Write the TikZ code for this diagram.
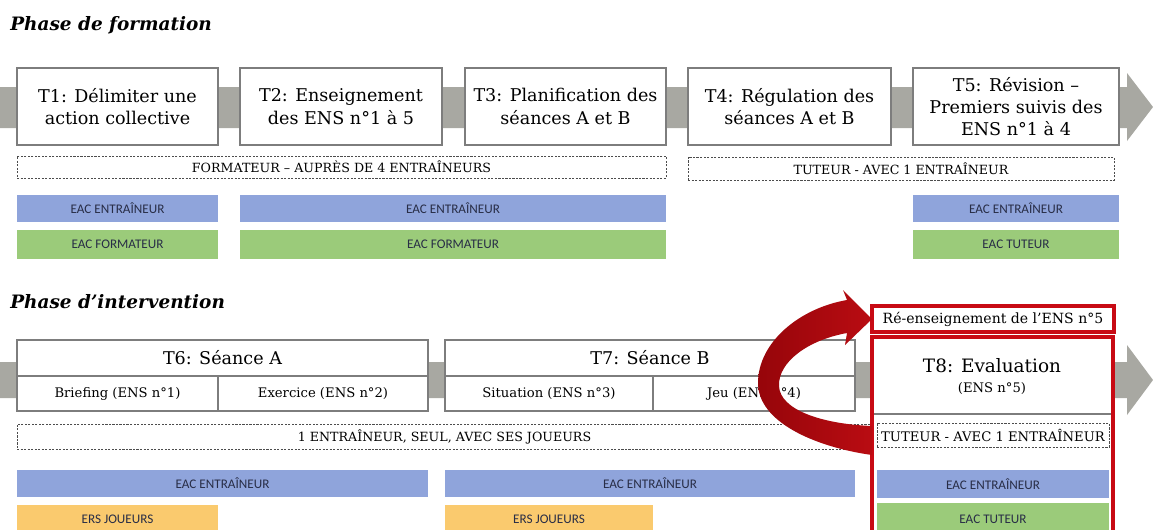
\documentclass[tikz,border=0pt]{standalone}
\usepackage{fontspec}
\setmainfont{DejaVu Serif}
\newfontfamily\calfont{Carlito}
\definecolor{bblue}{RGB}{143,164,219}
\definecolor{bgreen}{RGB}{155,203,122}
\definecolor{borange}{RGB}{250,202,110}
\definecolor{bred}{RGB}{200,10,20}
\definecolor{swred}{RGB}{185,12,18}
\definecolor{swdark}{RGB}{150,5,10}
\definecolor{bargray}{RGB}{168,168,162}
\definecolor{boxline}{RGB}{125,125,125}
\definecolor{eactext}{RGB}{40,45,70}
\newcommand\pbox[6]{\node[#1, minimum width={(#4-#2)*0.02cm}, minimum height={(#5-#3)*0.02cm}] (#6) at ({(#2+#4)/2},{(#3+#5)/2})}
\tikzset{
 tbox/.style={draw=boxline, line width=0.6pt, fill=white, inner sep=0pt, outer sep=0pt, align=center, font=\fontsize{10}{12.7}\selectfont},
 cell/.style={draw=boxline, line width=0.6pt, fill=white, inner sep=0pt, outer sep=0pt, font=\fontsize{7.5}{9}\selectfont},
 ttl/.style={draw=boxline, line width=0.6pt, fill=white, inner sep=0pt, outer sep=0pt, font=\fontsize{10}{12}\selectfont},
 dbox/.style={draw=black!70, line width=0.5pt, dash pattern=on 1.2pt off 0.8pt, fill=white, inner sep=0pt, outer sep=0pt, font=\fontsize{7.2}{8}\selectfont},
 eac/.style={fill=#1, inner sep=0pt, outer sep=0pt, text=eactext, font=\calfont\fontsize{7.5}{9}\selectfont},
 redbox/.style={draw=bred, line width=2.4pt, fill=white, inner sep=0pt, outer sep=0pt, font=\fontsize{8}{9}\selectfont},
 heading/.style={anchor=west, inner sep=0pt, font=\bfseries\itshape\fontsize{10.5}{12}\selectfont},
 plain/.style={inner sep=0pt},
 bar/.style={fill=bargray},
 swoosh/.style={left color=swdark, right color=swred}
}
\begin{document}
\begin{tikzpicture}[x=0.02cm,y=-0.02cm]
\useasboundingbox (0,0) rectangle (1153,529);
\clip (0,0) rectangle (1153,529);
\fill[white] (0,0) rectangle (1153,529);
% ---------- Phase de formation
\node[heading] (h1) at (10,25) {Phase de formation};
\fill[bar] (0,87) -- (1127,87) -- (1127,73) -- (1153,107) -- (1127,141) -- (1127,128) -- (0,128) -- cycle;
\pbox{tbox}{17}{68}{218}{145}{t1} {T1: Délimiter une\\action collective};
\pbox{tbox}{240}{68}{442}{145}{t2} {T2: Enseignement\\des ENS n°1 à 5};
\pbox{tbox}{465}{68}{666}{145}{t3} {T3: Planification des\\séances A et B};
\pbox{tbox}{688}{68}{891}{145}{t4} {T4: Régulation des\\séances A et B};
\pbox{tbox}{913}{68}{1119}{145}{t5} {T5: Révision –\\Premiers suivis des\\ENS n°1 à 4};
\pbox{dbox}{17}{156}{666}{178}{d1} {FORMATEUR – AUPRÈS DE 4 ENTRAÎNEURS};
\pbox{dbox}{688}{157}{1114}{180}{d2} {TUTEUR - AVEC 1 ENTRAÎNEUR};
\pbox{eac=bblue}{17}{195}{218}{222}{e1} {EAC ENTRAÎNEUR};
\pbox{eac=bblue}{240}{195}{666}{222}{e2} {EAC ENTRAÎNEUR};
\pbox{eac=bblue}{913}{195}{1119}{222}{e3} {EAC ENTRAÎNEUR};
\pbox{eac=bgreen}{17}{230}{218}{259}{f1} {EAC FORMATEUR};
\pbox{eac=bgreen}{240}{230}{666}{259}{f2} {EAC FORMATEUR};
\pbox{eac=bgreen}{913}{230}{1119}{259}{f3} {EAC TUTEUR};
% ---------- Phase d'intervention
\node[heading] (h2) at (10,302) {Phase d’intervention};
\fill[bar] (0,362) -- (1127,362) -- (1127,345) -- (1153,380) -- (1127,415) -- (1127,398) -- (0,398) -- cycle;
\pbox{ttl}{17}{340}{428}{376}{t6} {T6: Séance A};
\pbox{cell}{17}{376}{218}{411}{t6a} {Briefing (ENS n°1)};
\pbox{cell}{218}{376}{428}{411}{t6b} {Exercice (ENS n°2)};
\pbox{ttl}{445}{340}{855}{376}{t7} {T7: Séance B};
\pbox{cell}{445}{376}{653}{411}{t7a} {Situation (ENS n°3)};
\pbox{cell}{653}{376}{855}{411}{t7b} {Jeu (ENS n°4)};
\pbox{dbox}{17}{424}{872}{449}{d3} {1 ENTRAÎNEUR, SEUL, AVEC SES JOUEURS};
\pbox{eac=bblue}{17}{470}{428}{497}{e4} {EAC ENTRAÎNEUR};
\pbox{eac=bblue}{445}{470}{855}{497}{e5} {EAC ENTRAÎNEUR};
\pbox{eac=borange}{17}{505}{218}{540}{o1} {\raisebox{4pt}{ERS JOUEURS}};
\pbox{eac=borange}{445}{505}{653}{540}{o2} {\raisebox{4pt}{ERS JOUEURS}};
% ---------- T8
\pbox{redbox}{872}{306}{1114}{332}{re} {Ré-enseignement de l’ENS n°5};
\pbox{redbox}{872}{337}{1113}{545}{t8} {};
\node[plain, font=\fontsize{10.5}{12}\selectfont] (t8t) at (992,366) {T8: Evaluation};
\node[plain, font=\fontsize{7.5}{9}\selectfont] (t8s) at (992,389) {(ENS n°5)};
\draw[boxline, line width=0.6pt] (t8.west |- 0,414) -- (t8.east |- 0,414);
\pbox{dbox}{877}{423}{1109}{447}{d4} {\fontsize{7.5}{9}\selectfont TUTEUR - AVEC 1 ENTRAÎNEUR};
\pbox{eac=bblue}{877}{470}{1109}{498}{e6} {EAC ENTRAÎNEUR};
\pbox{eac=bgreen}{877}{503}{1109}{545}{f4} {\raisebox{6pt}{EAC TUTEUR}};
\draw[draw=bred, line width=2.4pt] (t8.north west) rectangle (t8.south east);
% ---------- red curved arrow
\path[swoosh] (t8.west |- 0,455) .. controls (815,447) and (758,422) .. (758,383)
  .. controls (758,342) and (800,308) .. (847,300) -- (843,290) -- (re.west) -- (845,345) -- (847,333)
  .. controls (808,340) and (778,362) .. (779,386) .. controls (780,410) and (822,424) .. (t8.west |- 0,426) -- cycle;
\end{tikzpicture}
\end{document}
